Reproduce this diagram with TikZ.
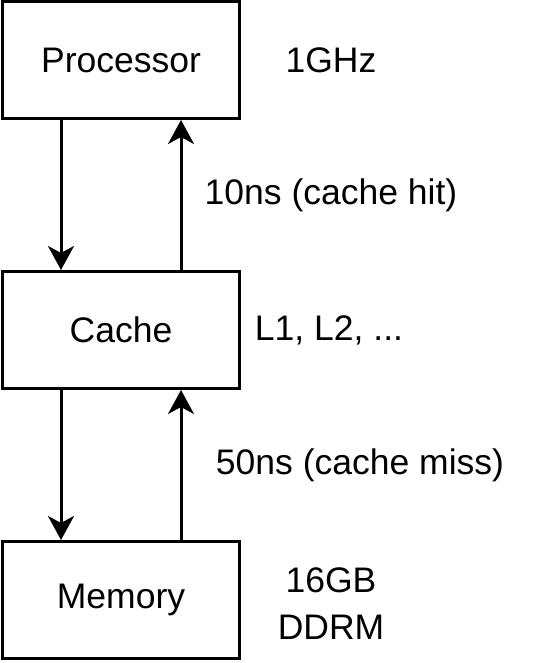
\documentclass[tikz,border=0pt]{standalone}
\usepackage{fontspec}
\setmainfont{Liberation Sans}
\usetikzlibrary{positioning, arrows.meta}
\tikzset{
	edge/.style={line width=3pt, -{Stealth[length=24pt, width=26pt, inset=7pt]}},
	unit/.style={
		rectangle,
		draw=black,
		line width=3pt,
		align=center,
		minimum width=237pt,
		minimum height=117pt,
		inner sep=0pt
	},
	note/.style={align=center, inner sep=0pt}
}

\begin{document}
\begin{tikzpicture}[x=1pt, y=-1pt, font=\fontsize{35.5}{47}\selectfont]
	\useasboundingbox (0,0) rectangle (543,663);
	\node[unit] (proc) at (121,60) {Processor};
	\node[unit, below=270pt of proc.center, anchor=center] (cache) {Cache};
	\node[unit, below=270pt of cache.center, anchor=center] (mem) {Memory};
	
	\node[note] (clock) at (331,60) {1GHz};
	\node[note] (hit) at (331,195) {10ns (cache hit)};
	\node[note] (levels) at (329,330) {L1, L2, ...};
	\node[note] (miss) at (360,465) {50ns (cache miss)};
	\node[note] (size) at (331,604) {16GB\\DDRM};
	
	\draw[edge] ([xshift=-60pt]proc.south) -- ([xshift=-60pt]cache.north);
	\draw[edge] ([xshift=60pt]cache.north) -- ([xshift=60pt]proc.south);
	\draw[edge] ([xshift=-60pt]cache.south) -- ([xshift=-60pt]mem.north);
	\draw[edge] ([xshift=60pt]mem.north) -- ([xshift=60pt]cache.south);
\end{tikzpicture}
\end{document}
